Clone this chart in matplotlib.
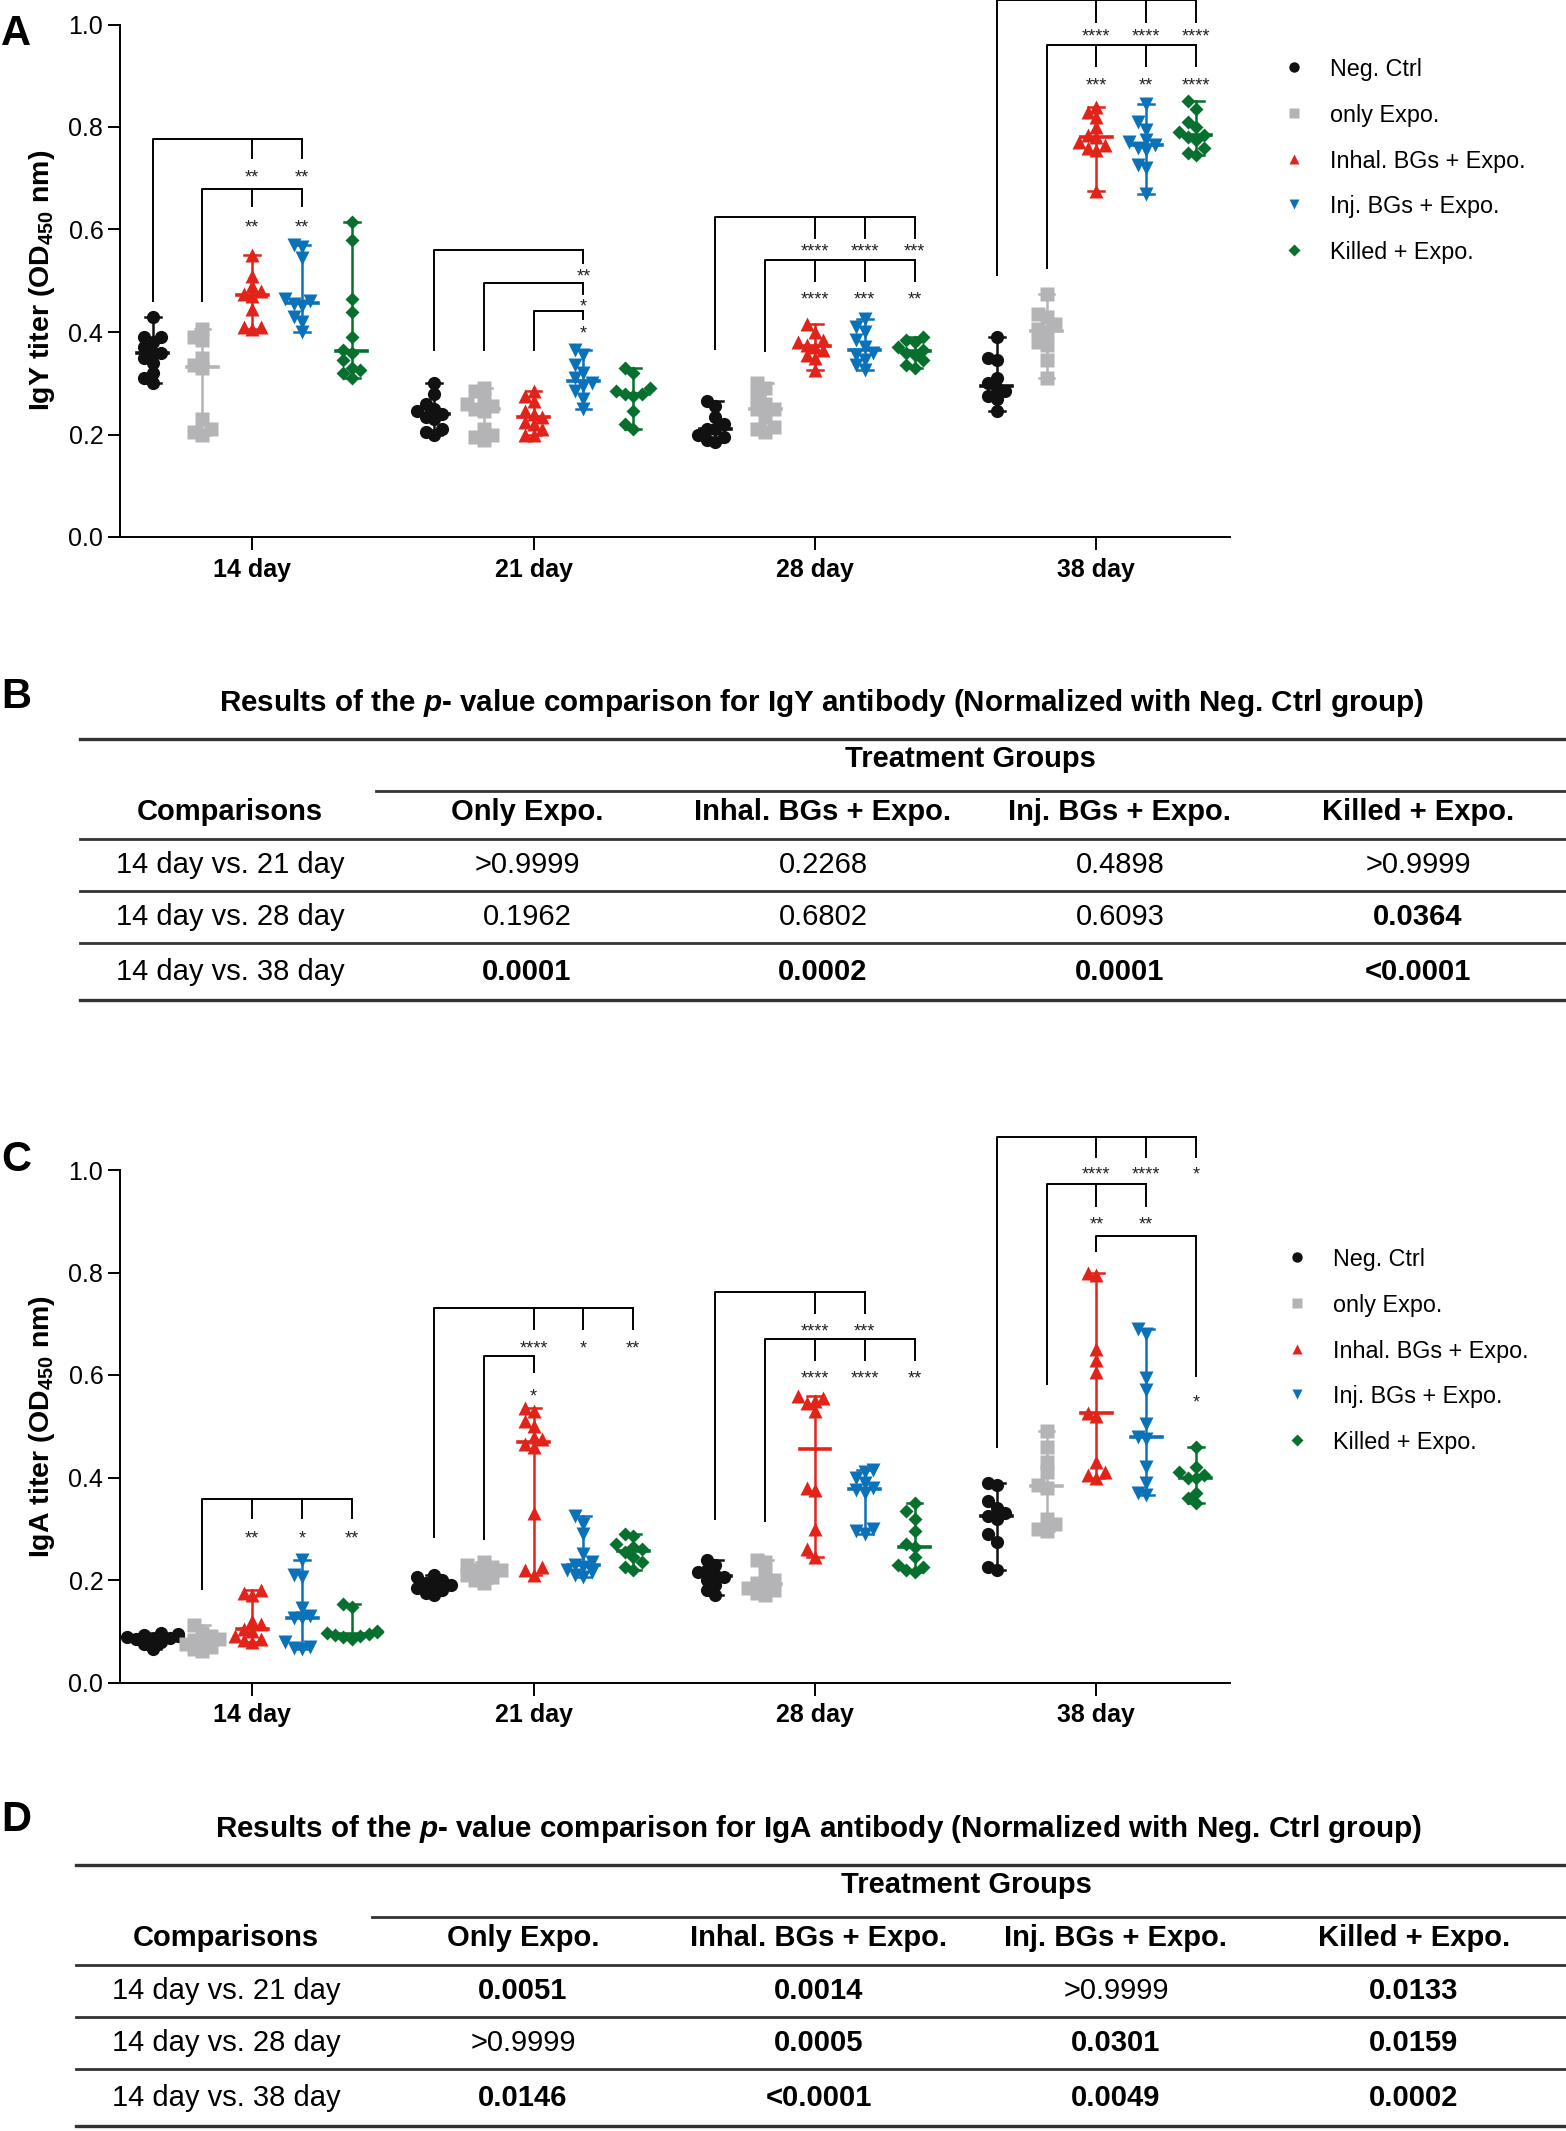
import numpy as np
import matplotlib
matplotlib.use('Agg')
import matplotlib.pyplot as plt

plt.rcParams['font.family'] = ['Liberation Sans', 'DejaVu Sans']
plt.rcParams['mathtext.fontset'] = 'custom'
plt.rcParams['mathtext.rm'] = 'Liberation Sans'
plt.rcParams['mathtext.bf'] = 'Liberation Sans:bold'
plt.rcParams['mathtext.it'] = 'Liberation Sans:italic:bold'

days = ['14 day', '21 day', '28 day', '38 day']
groups = ['Neg. Ctrl', 'only Expo.', 'Inhal. BGs + Expo.', 'Inj. BGs + Expo.', 'Killed + Expo.']
colors = ['#111111', '#b4b4b6', '#e2231a', '#0b72ba', '#08702f']
markers = ['o', 's', '^', 'v', 'D']

# IgY titer (OD450), one list per day: 14, 21, 28, 38
igy_neg = [[0.43, 0.39, 0.39, 0.38, 0.37, 0.36, 0.36, 0.35, 0.34, 0.32, 0.31, 0.30],
           [0.30, 0.28, 0.26, 0.25, 0.245, 0.24, 0.235, 0.23, 0.21, 0.205, 0.20],
           [0.265, 0.255, 0.235, 0.22, 0.21, 0.21, 0.20, 0.195, 0.19, 0.185],
           [0.39, 0.35, 0.345, 0.31, 0.30, 0.29, 0.285, 0.275, 0.27, 0.245]]
igy_only = [[0.405, 0.39, 0.385, 0.35, 0.335, 0.33, 0.23, 0.21, 0.205, 0.20],
            [0.29, 0.285, 0.27, 0.26, 0.255, 0.25, 0.245, 0.21, 0.20, 0.195, 0.19],
            [0.30, 0.29, 0.275, 0.26, 0.25, 0.25, 0.235, 0.215, 0.21, 0.205],
            [0.475, 0.435, 0.43, 0.415, 0.405, 0.40, 0.38, 0.375, 0.345, 0.31]]
igy_inhal = [[0.55, 0.51, 0.49, 0.48, 0.475, 0.47, 0.445, 0.41, 0.41, 0.405],
             [0.285, 0.275, 0.265, 0.245, 0.24, 0.235, 0.225, 0.22, 0.21, 0.20, 0.20],
             [0.415, 0.40, 0.385, 0.38, 0.375, 0.37, 0.365, 0.355, 0.35, 0.325],
             [0.84, 0.83, 0.82, 0.80, 0.785, 0.78, 0.77, 0.765, 0.76, 0.755, 0.675]]
igy_inj = [[0.57, 0.565, 0.545, 0.465, 0.46, 0.455, 0.45, 0.43, 0.42, 0.40],
           [0.365, 0.355, 0.335, 0.32, 0.31, 0.30, 0.295, 0.285, 0.27, 0.25],
           [0.425, 0.41, 0.40, 0.385, 0.37, 0.36, 0.355, 0.345, 0.335, 0.325],
           [0.845, 0.81, 0.795, 0.775, 0.77, 0.765, 0.76, 0.755, 0.725, 0.72, 0.67]]
igy_killed = [[0.615, 0.58, 0.465, 0.44, 0.39, 0.365, 0.36, 0.345, 0.33, 0.325, 0.32, 0.31],
              [0.33, 0.32, 0.29, 0.285, 0.28, 0.28, 0.275, 0.245, 0.22, 0.21],
              [0.39, 0.385, 0.38, 0.37, 0.365, 0.36, 0.355, 0.345, 0.335, 0.33],
              [0.85, 0.835, 0.81, 0.80, 0.79, 0.785, 0.78, 0.775, 0.76, 0.75, 0.745]]

# IgA titer (OD450)
iga_neg = [[0.097, 0.095, 0.093, 0.09, 0.088, 0.086, 0.085, 0.083, 0.08, 0.075, 0.066],
           [0.21, 0.205, 0.20, 0.195, 0.19, 0.19, 0.185, 0.18, 0.175, 0.17],
           [0.24, 0.23, 0.22, 0.215, 0.21, 0.205, 0.20, 0.19, 0.18, 0.17],
           [0.39, 0.385, 0.355, 0.34, 0.33, 0.325, 0.32, 0.29, 0.275, 0.225, 0.22]]
iga_only = [[0.112, 0.097, 0.09, 0.085, 0.082, 0.08, 0.075, 0.07, 0.065, 0.062],
            [0.235, 0.23, 0.225, 0.22, 0.22, 0.215, 0.21, 0.205, 0.20, 0.195],
            [0.24, 0.235, 0.21, 0.20, 0.195, 0.19, 0.185, 0.18, 0.175, 0.17],
            [0.49, 0.46, 0.43, 0.41, 0.385, 0.38, 0.32, 0.31, 0.30, 0.295]]
iga_inhal = [[0.18, 0.175, 0.17, 0.12, 0.115, 0.105, 0.10, 0.09, 0.085, 0.082, 0.08],
             [0.535, 0.53, 0.51, 0.50, 0.48, 0.475, 0.465, 0.46, 0.33, 0.225, 0.22, 0.21],
             [0.56, 0.555, 0.55, 0.545, 0.53, 0.38, 0.375, 0.30, 0.26, 0.245],
             [0.80, 0.795, 0.65, 0.63, 0.605, 0.525, 0.52, 0.43, 0.41, 0.405, 0.40]]
iga_inj = [[0.24, 0.21, 0.205, 0.145, 0.13, 0.125, 0.125, 0.08, 0.07, 0.068, 0.066],
           [0.325, 0.31, 0.29, 0.25, 0.235, 0.23, 0.225, 0.22, 0.215, 0.21, 0.205],
           [0.415, 0.41, 0.40, 0.39, 0.38, 0.375, 0.37, 0.30, 0.295, 0.29],
           [0.69, 0.68, 0.595, 0.57, 0.505, 0.48, 0.475, 0.42, 0.39, 0.37, 0.365]]
iga_killed = [[0.153, 0.148, 0.10, 0.098, 0.096, 0.095, 0.092, 0.09, 0.088, 0.085],
              [0.29, 0.285, 0.27, 0.265, 0.26, 0.255, 0.245, 0.235, 0.225, 0.22],
              [0.35, 0.335, 0.32, 0.295, 0.27, 0.265, 0.245, 0.23, 0.225, 0.22, 0.215],
              [0.46, 0.42, 0.41, 0.405, 0.40, 0.40, 0.37, 0.36, 0.35]]

# significance brackets: (day, from group, target groups, labels)
igy_sig = [(0, 0, [2, 3], ['**', '**']), (0, 1, [2, 3], ['**', '**']),
           (1, 0, [3], ['**']), (1, 1, [3], ['*']), (1, 2, [3], ['*']),
           (2, 0, [2, 3, 4], ['****', '****', '***']), (2, 1, [2, 3, 4], ['****', '***', '**']),
           (3, 0, [2, 3, 4], ['****', '****', '****']), (3, 1, [2, 3, 4], ['***', '**', '****'])]
# bracket levels (top, tick end, left leg end, star y) in axis units
igy_lvl = [(0.776, 0.740, 0.461, 0.711), (0.680, 0.645, 0.461, 0.614),
           (0.560, 0.535, 0.365, 0.517), (0.495, 0.475, 0.365, 0.460), (0.441, 0.425, 0.365, 0.407),
           (0.625, 0.584, 0.367, 0.566), (0.540, 0.500, 0.363, 0.472),
           (1.047, 1.004, 0.512, 0.985), (0.960, 0.919, 0.524, 0.891)]
iga_sig = [(0, 1, [2, 3, 4], ['**', '*', '**']),
           (1, 0, [2, 3, 4], ['****', '*', '**']), (1, 1, [2], ['*']),
           (2, 0, [2, 3], ['****', '***']), (2, 1, [2, 3, 4], ['****', '****', '**']),
           (3, 0, [2, 3, 4], ['****', '****', '*']), (3, 1, [2, 3], ['**', '**']), (3, 2, [4], ['*'])]
iga_lvl = [(0.359, 0.321, 0.183, 0.291),
           (0.731, 0.689, 0.284, 0.661), (0.637, 0.605, 0.280, 0.567),
           (0.762, 0.721, 0.320, 0.695), (0.670, 0.629, 0.315, 0.603),
           (1.065, 1.025, 0.460, 1.000), (0.972, 0.930, 0.583, 0.903), (0.871, 0.598, 0.841, 0.555)]

# p-value tables
comparisons = ['14 day vs. 21 day', '14 day vs. 28 day', '14 day vs. 38 day']
table_cols = ['Only Expo.', 'Inhal. BGs + Expo.', 'Inj. BGs + Expo.', 'Killed + Expo.']
igy_p = [['>0.9999', '0.2268', '0.4898', '>0.9999'],
         ['0.1962', '0.6802', '0.6093', '0.0364'],
         ['0.0001', '0.0002', '0.0001', '<0.0001']]
iga_p = [['0.0051', '0.0014', '>0.9999', '0.0133'],
         ['>0.9999', '0.0005', '0.0301', '0.0159'],
         ['0.0146', '<0.0001', '0.0049', '0.0002']]

W, H = 1566, 2131
fig = plt.figure(figsize=(W / 100, H / 100), dpi=100)
ov = fig.add_axes([0, 0, 1, 1])
ov.set_xlim(0, W)
ov.set_ylim(H, 0)
ov.axis('off')

OFF = 0.177


def swarm(vals, w=0.03, dy=0.016):
    order = np.argsort(vals)
    xs = np.zeros(len(vals))
    placed = []
    for i in order:
        for k in [0, -1, 1, -2, 2, -3, 3]:
            ok = all(abs(vals[i] - vals[j]) > dy or abs(k * w - xs[j]) > w * 0.9 for j in placed)
            if ok:
                break
        xs[i] = k * w
        placed.append(i)
    return xs


def draw_panel(rect, data, sig, lvl, ylabel):
    ax = fig.add_axes(rect)
    for d in range(4):
        for g in range(5):
            v = np.array(data[g][d])
            xc = d + (g - 2) * OFF
            ms = 7.5 if markers[g] == 'D' else 9.5
            ax.plot(xc + swarm(v), v, ls='none', marker=markers[g], ms=ms, color=colors[g],
                    mec='none', zorder=2, clip_on=False)
            med = np.median(v)
            ax.plot([xc - 0.055, xc + 0.055], [med, med], color=colors[g], lw=2.6, zorder=3)
            ax.plot([xc, xc], [v.min(), v.max()], color=colors[g], lw=1.8, zorder=3)
            for e in (v.min(), v.max()):
                ax.plot([xc - 0.028, xc + 0.028], [e, e], color=colors[g], lw=1.8, zorder=3)
    for (d, g0, tg, labs), (top, tick, leg, sy) in zip(sig, lvl):
        x0 = d + (g0 - 2) * OFF
        xt = [d + (t - 2) * OFF for t in tg]
        ax.plot([x0, x0, xt[-1]], [leg, top, top], color='k', lw=1.4, clip_on=False)
        for x, lab in zip(xt, labs):
            ax.plot([x, x], [top, tick], color='k', lw=1.4, clip_on=False)
            ax.text(x, sy - 0.019, lab, ha='center', va='baseline', fontsize=13,
                    color='#222222', clip_on=False)
    ax.set_xlim(-0.47, 3.475)
    ax.set_ylim(0, 1.0)
    ax.set_yticks(np.arange(0, 1.01, 0.2))
    ax.set_yticklabels(['%.1f' % t for t in np.arange(0, 1.01, 0.2)])
    ax.set_xticks(range(4))
    ax.set_xticklabels(days, fontweight='bold')
    ax.tick_params(axis='both', labelsize=18, length=9, width=1.4)
    ax.tick_params(axis='y', pad=3)
    ax.tick_params(axis='x', pad=6)
    for s in ('top', 'right'):
        ax.spines[s].set_visible(False)
    for s in ('left', 'bottom'):
        ax.spines[s].set_linewidth(1.4)
    ax.set_ylabel(ylabel, fontsize=20.5, fontweight='bold', labelpad=8)
    return ax


draw_panel([120 / W, 1 - 537 / H, 1110 / W, 512.5 / H],
           [igy_neg, igy_only, igy_inhal, igy_inj, igy_killed], igy_sig, igy_lvl,
           r'IgY titer (OD$_{\mathbf{450}}$ nm)')
draw_panel([120 / W, 1 - 1682.5 / H, 1110 / W, 512.5 / H],
           [iga_neg, iga_only, iga_inhal, iga_inj, iga_killed], iga_sig, iga_lvl,
           r'IgA titer (OD$_{\mathbf{450}}$ nm)')

# legends
for y0, x0 in ((67, 1294), (1257, 1297)):
    for i, g in enumerate(groups):
        y = y0 + i * 45.8
        ms = 6.5 if markers[i] == 'D' else 7.5
        ov.plot([x0], [y], ls='none', marker=markers[i], ms=ms, color=colors[i], mec='none')
        ov.text(x0 + 36, y, g, fontsize=16.8, va='center_baseline', ha='left')

# panel letters
for lab, y in (('A', 34), ('B', 697), ('C', 1160), ('D', 1820)):
    ov.text(16, y, lab, fontsize=30, fontweight='bold', ha='center', va='center')

col_x = [230, 527, 823, 1120, 1418]
TFS = 21


def pval(s):
    return float(s.strip('<>'))


def draw_table(y0, dx, title, pvals):
    ov.text(822 + dx, y0 - 36, title, fontsize=21.3, fontweight='bold', ha='center', va='center')
    ov.plot([80 + dx, W], [y0, y0], color='#333333', lw=2.4)
    ov.text(970 + dx, y0 + 17, 'Treatment Groups', fontsize=TFS, fontweight='bold',
            ha='center', va='center_baseline')
    ov.plot([376 + dx, W], [y0 + 52, y0 + 52], color='#333333', lw=2.0)
    ov.text(col_x[0] + dx, y0 + 70, 'Comparisons', fontsize=TFS, fontweight='bold',
            ha='center', va='center_baseline')
    for j, c in enumerate(table_cols):
        ov.text(col_x[j + 1] + dx, y0 + 70, c, fontsize=TFS, fontweight='bold',
                ha='center', va='center_baseline')
    lines = [y0 + 100, y0 + 152, y0 + 204, y0 + 261]
    for k, yl in enumerate(lines):
        ov.plot([80 + dx, W], [yl, yl], color='#333333', lw=2.4 if k == 3 else 2.0)
    for r, comp in enumerate(comparisons):
        yr = (lines[r] + lines[r + 1]) / 2 - 3
        ov.text(col_x[0] + dx, yr, comp, fontsize=TFS, ha='center', va='center_baseline')
        for j, s in enumerate(pvals[r]):
            bold = pval(s) < 0.05
            ov.text(col_x[j + 1] + dx, yr, s, fontsize=TFS, ha='center', va='center_baseline',
                    fontweight='bold' if bold else 'normal')


draw_table(739, 0, r'Results of the $\mathit{p}$- value comparison for IgY antibody (Normalized with Neg. Ctrl group)', igy_p)
draw_table(1865, -4, r'Results of the $\mathit{p}$- value comparison for IgA antibody (Normalized with Neg. Ctrl group)', iga_p)

fig.savefig('out.png', dpi=100)
